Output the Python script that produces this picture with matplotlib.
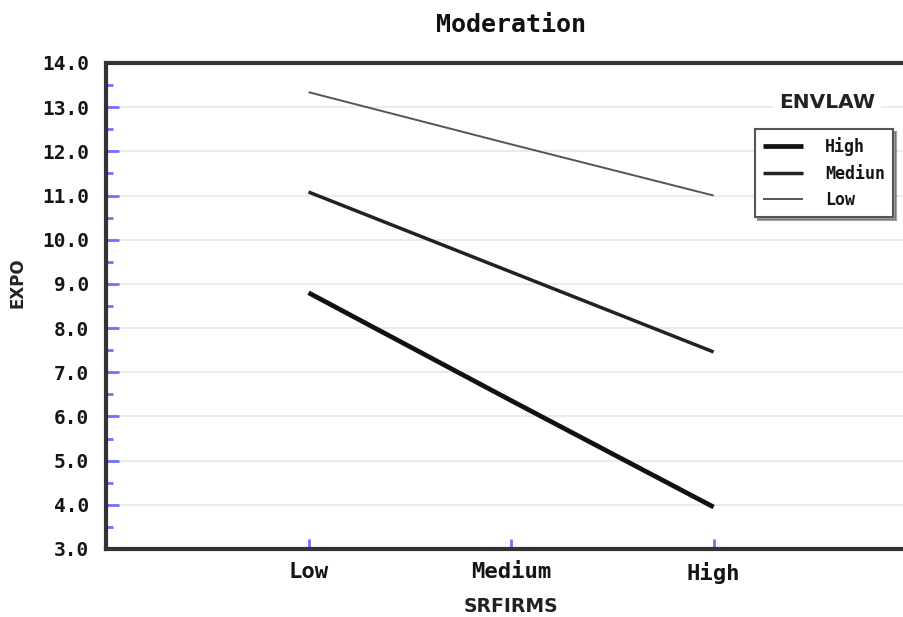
import matplotlib
matplotlib.use("Agg")
import matplotlib.pyplot as plt
from matplotlib.ticker import MultipleLocator, FormatStrFormatter, FixedLocator

# ---- data ----
categories = ["Low", "Medium", "High"]
legend_labels = ["High", "Mediun", "Low"]
envlaw_high = [8.8, 6.36, 3.95]
envlaw_medium = [11.08, 9.27, 7.46]
envlaw_low = [13.34, 12.16, 11.0]
y_ticks = [3.0, 4.0, 5.0, 6.0, 7.0, 8.0, 9.0, 10.0, 11.0, 12.0, 13.0, 14.0]

MONO = "DejaVu Sans Mono"
SANS = "DejaVu Sans"

fig = plt.figure(figsize=(9.04, 6.17), dpi=100)
ax = fig.add_axes([106 / 904, 1 - 549 / 617, 1 - 106 / 904, (549 - 63) / 617])

x = [1, 2, 3]
series = [envlaw_high, envlaw_medium, envlaw_low]
widths = [3.4, 2.5, 1.4]
colors = ["#111111", "#222222", "#555555"]
for vals, lab, lw, c in zip(series, legend_labels, widths, colors):
    ax.plot(x, vals, color=c, lw=lw, label=lab, solid_capstyle="butt", zorder=3)

ax.set_xlim(0.0, 3.94)
ax.set_ylim(3.0, 14.0)

ax.yaxis.set_major_locator(FixedLocator(y_ticks))
ax.yaxis.set_minor_locator(MultipleLocator(0.5))
ax.yaxis.set_major_formatter(FormatStrFormatter("%.1f"))
ax.set_xticks(x)
ax.set_xticklabels(categories)

ax.grid(axis="y", which="major", color="#ebebeb", lw=1.5, zorder=0)
ax.set_axisbelow(True)

ax.tick_params(axis="y", which="major", direction="in", length=9, width=2,
               color="#7070ff", pad=12, labelsize=14)
ax.tick_params(axis="y", which="minor", direction="in", length=5, width=2,
               color="#7070ff")
ax.tick_params(axis="x", which="major", direction="in", length=7, width=2,
               color="#7070ff", pad=9, labelsize=16)
for lbl in ax.get_yticklabels() + ax.get_xticklabels():
    lbl.set_fontfamily(MONO)
    lbl.set_fontweight("bold")
    lbl.set_color("#151515")

for side in ["left", "bottom", "top"]:
    ax.spines[side].set_linewidth(3)
    ax.spines[side].set_color("#333333")
ax.spines["right"].set_visible(False)

fig.text(511 / 904, 1 - 25 / 617, "Moderation", family=MONO, weight="bold",
         fontsize=18, ha="center", va="center", color="#111111")
fig.text(511 / 904, 1 - 607 / 617, "SRFIRMS", family=SANS, weight="bold",
         fontsize=13.5, ha="center", va="center", color="#222222")
fig.text(18 / 904, 1 - 283 / 617, "EXPO", family=SANS, weight="bold",
         fontsize=12, ha="center", va="center", rotation=90, color="#222222")

fig.text(827 / 904, 1 - 103 / 617, "ENVLAW", family=SANS, weight="bold",
         fontsize=14.5, ha="center", va="center", color="#222222",
         bbox=dict(facecolor="white", edgecolor="none", pad=4), zorder=5)

leg = ax.legend(loc="upper left", bbox_to_anchor=(755 / 904, 1 - 129 / 617),
                bbox_transform=fig.transFigure, borderaxespad=0,
                prop={"family": MONO, "weight": "bold", "size": 12},
                frameon=True, fancybox=False, shadow=True, edgecolor="#555555",
                handlelength=2.4, labelspacing=0.5, borderpad=0.5,
                handletextpad=1.3)
leg.get_frame().set_linewidth(1.5)
for t in leg.get_texts():
    t.set_color("#151515")

fig.savefig("out.png", dpi=100, facecolor="white")
